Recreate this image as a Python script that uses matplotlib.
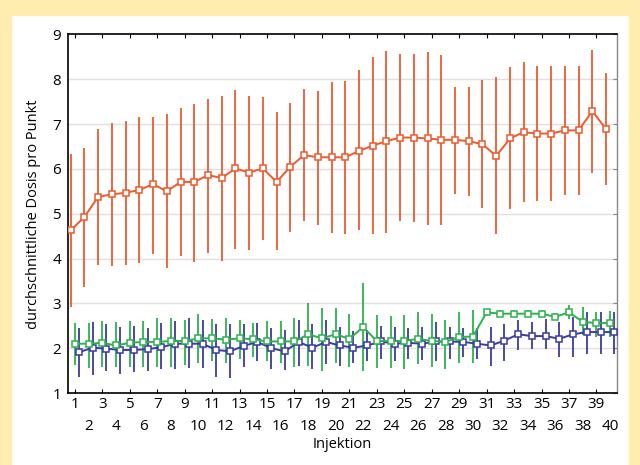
import matplotlib
matplotlib.use("Agg")
import matplotlib.pyplot as plt
import numpy as np
from matplotlib.patches import Rectangle

plt.rcParams['font.family'] = ['Open Sans', 'DejaVu Sans']

injektion = list(range(1, 41))

orange_mean = [4.63, 4.93, 5.38, 5.43, 5.47, 5.53, 5.66, 5.50, 5.71, 5.71,
               5.86, 5.80, 6.01, 5.92, 6.01, 5.71, 6.05, 6.31, 6.26, 6.26,
               6.26, 6.40, 6.52, 6.62, 6.70, 6.70, 6.68, 6.65, 6.65, 6.62,
               6.55, 6.29, 6.68, 6.82, 6.79, 6.79, 6.86, 6.86, 7.29, 6.89]
orange_top = [6.34, 6.47, 6.90, 7.03, 7.08, 7.16, 7.16, 7.22, 7.36, 7.46,
              7.57, 7.62, 7.76, 7.63, 7.61, 7.27, 7.47, 7.79, 7.74, 7.94,
              7.97, 8.20, 8.49, 8.64, 8.57, 8.57, 8.60, 8.54, 7.82, 7.82,
              7.99, 8.05, 8.27, 8.38, 8.30, 8.30, 8.29, 8.29, 8.65, 8.15]
orange_bot = [2.93, 3.36, 3.85, 3.83, 3.85, 3.90, 4.10, 3.78, 4.06, 3.93,
              4.13, 3.95, 4.22, 4.18, 4.42, 4.18, 4.60, 4.84, 4.76, 4.58,
              4.54, 4.63, 4.55, 4.57, 4.84, 4.82, 4.76, 4.75, 5.44, 5.39,
              5.12, 4.54, 5.10, 5.27, 5.29, 5.29, 5.42, 5.42, 5.92, 5.64]

green_mean = [2.10, 2.10, 2.12, 2.06, 2.12, 2.14, 2.14, 2.16, 2.16, 2.22,
              2.22, 2.19, 2.22, 2.20, 2.15, 2.15, 2.15, 2.31, 2.22, 2.31,
              2.21, 2.47, 2.16, 2.16, 2.16, 2.21, 2.16, 2.14, 2.25, 2.26,
              2.80, 2.77, 2.77, 2.77, 2.77, 2.70, 2.80, 2.59, 2.56, 2.56]
green_top = [2.57, 2.57, 2.60, 2.59, 2.60, 2.61, 2.68, 2.68, 2.62, 2.76,
             2.66, 2.68, 2.62, 2.57, 2.60, 2.61, 2.68, 3.01, 2.89, 2.89,
             2.77, 3.45, 2.74, 2.72, 2.74, 2.80, 2.77, 2.64, 2.81, 2.85,
             2.88, 2.86, 2.86, 2.86, 2.86, 2.79, 2.96, 2.92, 2.81, 2.83]
green_bot = [1.63, 1.55, 1.59, 1.57, 1.57, 1.59, 1.57, 1.57, 1.63, 1.68,
             1.72, 1.68, 1.75, 1.80, 1.71, 1.68, 1.59, 1.61, 1.50, 1.68,
             1.59, 1.50, 1.56, 1.55, 1.53, 1.65, 1.57, 1.53, 1.68, 1.66,
             2.72, 2.69, 2.69, 2.69, 2.69, 2.62, 2.66, 2.29, 2.25, 2.26]

blue_mean = [1.91, 2.01, 1.99, 1.96, 1.96, 1.98, 2.02, 2.10, 2.10, 2.10,
             1.96, 1.93, 2.05, 2.14, 2.00, 1.93, 2.14, 2.01, 2.14, 2.06,
             2.01, 2.06, 2.15, 2.10, 2.12, 2.10, 2.15, 2.15, 2.14, 2.10,
             2.06, 2.17, 2.31, 2.27, 2.27, 2.21, 2.31, 2.36, 2.36, 2.36]
blue_top = [2.45, 2.59, 2.55, 2.47, 2.49, 2.45, 2.57, 2.61, 2.68, 2.62,
            2.55, 2.53, 2.55, 2.57, 2.45, 2.40, 2.62, 2.55, 2.62, 2.47,
            2.38, 2.40, 2.50, 2.47, 2.44, 2.47, 2.59, 2.47, 2.45, 2.44,
            2.47, 2.55, 2.62, 2.59, 2.66, 2.59, 2.70, 2.81, 2.81, 2.81]
blue_bot = [1.35, 1.40, 1.48, 1.42, 1.46, 1.50, 1.53, 1.53, 1.56, 1.56,
            1.35, 1.33, 1.59, 1.72, 1.53, 1.51, 1.61, 1.53, 1.65, 1.61,
            1.68, 1.72, 1.76, 1.72, 1.76, 1.74, 1.72, 1.76, 1.80, 1.76,
            1.61, 1.72, 1.95, 1.99, 1.99, 1.80, 1.80, 1.87, 1.87, 1.87]

yticks = list(range(1, 10))
xlabel = "Injektion"
ylabel = "durchschnittliche Dosis pro Punkt"

c_orange = "#EE5A2E"
c_green = "#2DB04E"
c_blue = "#3B3BA0"

fig = plt.figure(figsize=(6.4, 4.65), dpi=100)
fig.patch.set_facecolor("white")
yel = "#FFEDB0"
fig.add_artist(Rectangle((0, 0), 11/640, 1, transform=fig.transFigure, color=yel, zorder=0))
fig.add_artist(Rectangle((0, 1-15/465), 1, 15/465, transform=fig.transFigure, color=yel, zorder=0))
fig.add_artist(Rectangle((1-11/640, 0), 11/640, 1, transform=fig.transFigure, color=yel, zorder=0))

ax = fig.add_axes([68/640, 1-393/465, (617-68)/640, (393-34.5)/465])
ax.set_xlim(0.5, 40.5)
ax.set_ylim(1, 9)

x = np.array(injektion, dtype=float)

def series(offset, mean, top, bot, color):
    m = np.array(mean); t = np.array(top); b = np.array(bot)
    ax.errorbar(x + offset, m, yerr=[m - b, t - m], fmt='none', ecolor=color,
                elinewidth=1.3, capsize=0, zorder=2)
    ax.plot(x + offset, m, '-', color=color, lw=1.4, marker='s', ms=4.6,
            mfc='white', mec=color, mew=1.1, zorder=3)

series(0.3, blue_mean, blue_top, blue_bot, c_blue)
series(0.0, green_mean, green_top, green_bot, c_green)
series(-0.3, orange_mean, orange_top, orange_bot, c_orange)

for yv in yticks[1:-1]:
    ax.axhline(yv, color="#E0E0E0", lw=1, zorder=0)

ax.set_yticks(yticks)
ax.tick_params(axis='y', which='both', left=False, right=True, direction='in',
               length=3, color='#888888', labelsize=11, pad=5)
odd = [v for v in injektion if v % 2 == 1]
even = [v for v in injektion if v % 2 == 0]
ax.set_xticks(odd)
ax.set_xticklabels([str(v) for v in odd])
ax.set_xticks(even, minor=True)
ax.set_xticklabels([str(v) for v in even], minor=True)
ax.tick_params(axis='x', which='major', top=True, bottom=True, direction='in',
               length=3, labelsize=11, pad=3)
ax.tick_params(axis='x', which='minor', top=False, bottom=False, length=0,
               labelsize=11, pad=19)

for s in ['top', 'left', 'bottom']:
    ax.spines[s].set_color('black')
    ax.spines[s].set_linewidth(1.2)
ax.spines['right'].set_color('#888888')
ax.spines['right'].set_linewidth(1.0)

ax.set_xlabel(xlabel, fontsize=10.5, labelpad=2)
ax.set_ylabel(ylabel, fontsize=10.5, labelpad=8)

fig.savefig("out.png", dpi=100)
